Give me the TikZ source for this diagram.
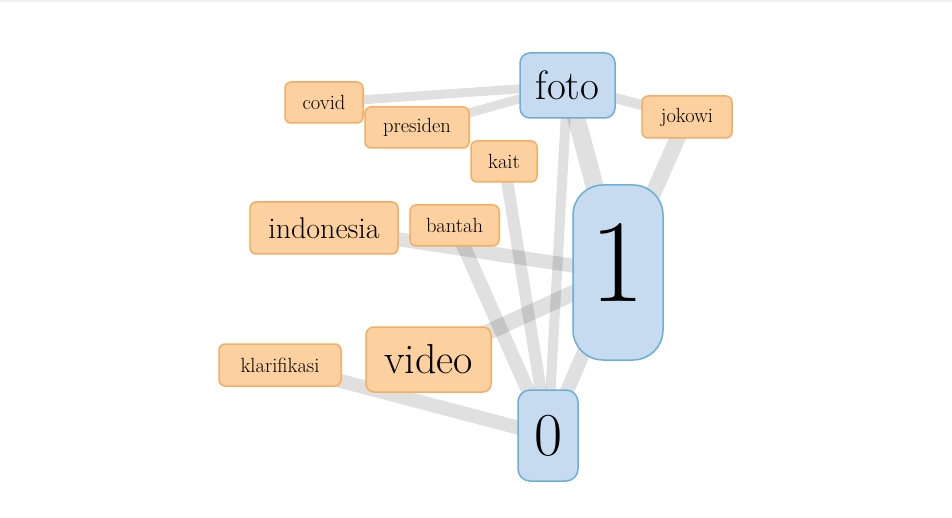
\documentclass[tikz,border=0pt]{standalone}
\usepackage{fontspec}
\usetikzlibrary{backgrounds}
\definecolor{ofill}{HTML}{FDD09F}
\definecolor{oline}{HTML}{F5AD66}
\definecolor{bfill}{HTML}{C6DBEF}
\definecolor{bline}{HTML}{6BAED6}
\tikzset{
  wordbox/.style={draw=oline, fill=ofill, line width=1.5pt, rounded corners=6pt, inner sep=0pt, align=center},
  clsbox/.style={draw=bline, fill=bfill, line width=1.5pt, inner sep=0pt, align=center},
  link/.style={draw=black, draw opacity=0.12, line cap=butt},
  fs/.style={font=\fontsize{#1}{#1}\selectfont}
}
\begin{document}
\begin{tikzpicture}[x=1pt,y=-1pt]
\useasboundingbox (0,0) rectangle (952,518);
\fill[black!6] (0,0) rectangle (952,2);
% nodes
\node[clsbox, rounded corners=10pt, minimum width=95pt, minimum height=65pt, fs=41] (foto) at (567.5,85.5) {foto};
\node[wordbox, minimum width=90pt, minimum height=42pt, fs=20.5] (jokowi) at (687,117) {jokowi};
\node[wordbox, minimum width=78pt, minimum height=41pt, fs=20.5] (covid) at (324,102.5) {covid};
\node[wordbox, minimum width=104pt, minimum height=41pt, fs=20.5] (presiden) at (417,127.5) {presiden};
\node[wordbox, minimum width=66pt, minimum height=41pt, fs=20.5] (kait) at (504,161.5) {kait};
\node[wordbox, minimum width=148pt, minimum height=52pt, fs=30] (indonesia) at (324,228) {indonesia};
\node[wordbox, minimum width=89pt, minimum height=41pt, fs=20.5] (bantah) at (454.5,225.5) {bantah};
\node[clsbox, rounded corners=30pt, minimum width=90pt, minimum height=175pt, fs=118] (one) at (618,272.5) {\raisebox{20pt}{1}};
\node[wordbox, rounded corners=8pt, minimum width=125pt, minimum height=65pt, fs=42] (video) at (428.5,359.5) {video};
\node[wordbox, minimum width=122pt, minimum height=42pt, fs=20.5] (klarifikasi) at (280,365) {klarifikasi};
\node[clsbox, rounded corners=12pt, minimum width=60pt, minimum height=91pt, fs=61] (zero) at (548,435.5) {0};
% links
\begin{pgfonlayer}{background}
\draw[link, line width=9pt] (covid.center) -- (foto.center);
\draw[link, line width=9pt] (presiden.center) -- (foto.center);
\draw[link, line width=10pt] (jokowi.center) -- (foto.center);
\draw[link, line width=18pt] (foto.center) -- (one.center);
\draw[link, line width=16pt] (jokowi.center) -- (one.center);
\draw[link, line width=10pt] (foto.center) -- (zero.center);
\draw[link, line width=12pt] (kait.center) -- (zero.center);
\draw[link, line width=14pt] (bantah.center) -- (zero.center);
\draw[link, line width=14pt] (indonesia.center) -- (one.center);
\draw[link, line width=16pt] (video.center) -- (one.center);
\draw[link, line width=14pt] (klarifikasi.center) -- (zero.center);
\draw[link, line width=14pt] (one.center) -- (zero.center);
\end{pgfonlayer}
\end{tikzpicture}
\end{document}
